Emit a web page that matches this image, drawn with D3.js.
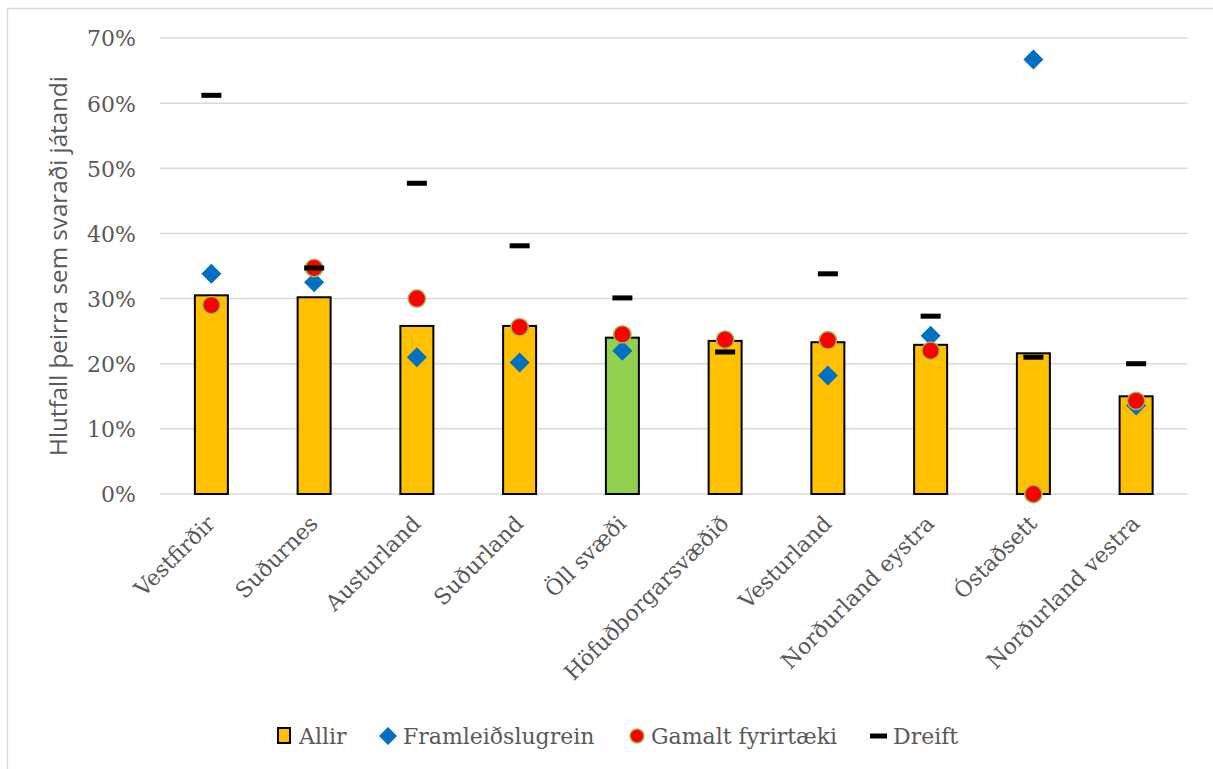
<!DOCTYPE html>
<html><head><meta charset="utf-8">
<script src="https://cdn.jsdelivr.net/npm/d3@7"></script>
<style>body{margin:0;background:#fff}svg{display:block}</style>
</head><body>
<svg id="c" width="1213" height="769"></svg>
<script>
const categories = ["Vestfirðir","Suðurnes","Austurland","Suðurland","Öll svæði","Höfuðborgarsvæðið","Vesturland","Norðurland eystra","Óstaðsett","Norðurland vestra"];
const allir = [0.305,0.302,0.258,0.258,0.240,0.235,0.233,0.229,0.216,0.150];
const framleidslugrein = [0.338,0.325,0.210,0.202,0.220,0.236,0.182,0.243,0.667,0.136];
const gamaltFyrirtaeki = [0.290,0.347,0.300,0.256,0.245,0.237,0.236,0.220,0.000,0.143];
const dreift = [0.612,0.347,0.477,0.381,0.301,0.218,0.338,0.273,0.210,0.200];
const yTicks = [0,0.1,0.2,0.3,0.4,0.5,0.6,0.7];
const highlight = "Öll svæði";
const seriesNames = ["Allir","Framleiðslugrein","Gamalt fyrirtæki","Dreift"];
const yTitle = "Hlutfall þeirra sem svaraði játandi";

const svg = d3.select("#c");
const serif = "'DejaVu Serif', serif";
const sans = "'Open Sans', sans-serif";
const txt = "#595959";

svg.append("rect").attr("x",7.5).attr("y",8.5).attr("width",1215).attr("height",770)
  .attr("fill","#fff").attr("stroke","#D9D9D9").attr("stroke-width",1.5);

const x = d3.scaleBand().domain(categories).range([160,1187.5]);
const y = d3.scaleLinear().domain([0,0.7]).range([494,38]);

// gridlines
svg.append("g").selectAll("line").data(yTicks).join("line")
  .attr("x1",160).attr("x2",1187.5).attr("y1",d=>y(d)).attr("y2",d=>y(d))
  .attr("stroke","#D9D9D9").attr("stroke-width",1.5);

// y axis labels
const yAxis = d3.axisLeft(y).tickValues(yTicks).tickFormat(d3.format(".0%")).tickSize(0).tickPadding(0);
const ya = svg.append("g").attr("transform","translate(136,0)").call(yAxis);
ya.select(".domain").remove();
ya.selectAll("text").attr("font-family",serif).attr("font-size",22).attr("fill",txt).attr("dy","0.36em");

// y title
const yt = svg.append("text").attr("transform","translate(67,266) rotate(-90)").attr("text-anchor","middle")
  .attr("font-family",sans).attr("font-size",20).attr("fill",txt).text(yTitle);
const L = yt.node().getComputedTextLength();
yt.attr("font-size", 20*380/L);

// x labels
const xAxis = d3.axisBottom(x).tickSize(0).tickPadding(0);
const xa = svg.append("g").attr("transform","translate(0,494)").call(xAxis);
xa.select(".domain").remove();
xa.selectAll("text").attr("font-family",serif).attr("font-size",22).attr("fill",txt)
  .attr("text-anchor","end").attr("dy",0).attr("y",0)
  .attr("transform","translate(5,31) rotate(-45)");

const bw = 33;
// bars
svg.append("g").selectAll("rect").data(categories).join("rect")
  .attr("x",d=>x(d)+x.bandwidth()/2-bw/2).attr("width",bw)
  .attr("y",(d,i)=>y(allir[i])).attr("height",(d,i)=>y(0)-y(allir[i]))
  .attr("fill",d=>d===highlight?"#92D050":"#FFC000").attr("stroke","#000").attr("stroke-width",2);

const cx = d=>x(d)+x.bandwidth()/2;
// diamonds
svg.append("g").selectAll("path").data(categories).join("path")
  .attr("d",(d,i)=>{const X=cx(d),Y=y(framleidslugrein[i]),r=10;return `M${X},${Y-r}L${X+r},${Y}L${X},${Y+r}L${X-r},${Y}Z`;})
  .attr("fill","#0070C0");
// circles
svg.append("g").selectAll("circle").data(categories).join("circle")
  .attr("cx",cx).attr("cy",(d,i)=>y(gamaltFyrirtaeki[i])).attr("r",8.7)
  .attr("fill","#FF0000").attr("stroke","#9BBB59").attr("stroke-width",1.5);
// dashes
svg.append("g").selectAll("rect").data(categories).join("rect")
  .attr("x",d=>cx(d)-10).attr("width",20).attr("y",(d,i)=>y(dreift[i])-2.5).attr("height",5)
  .attr("fill","#000");

// legend
const lg = svg.append("g");
const ly = 736;
const items = [
  {name:seriesNames[0], sx:277, tx:299},
  {name:seriesNames[1], sx:379, tx:403},
  {name:seriesNames[2], sx:629, tx:651},
  {name:seriesNames[3], sx:870, tx:893}
];
lg.append("rect").attr("x",items[0].sx+1).attr("y",ly-8).attr("width",12).attr("height",15)
  .attr("fill","#FFC000").attr("stroke","#000").attr("stroke-width",2);
lg.append("path").attr("d",`M${items[1].sx+9},${ly-9}L${items[1].sx+18},${ly}L${items[1].sx+9},${ly+9}L${items[1].sx},${ly}Z`).attr("fill","#0070C0");
lg.append("circle").attr("cx",items[2].sx+8).attr("cy",ly).attr("r",7).attr("fill","#FF0000").attr("stroke","#9BBB59").attr("stroke-width",1.5);
lg.append("rect").attr("x",items[3].sx).attr("y",ly-2.5).attr("width",17).attr("height",5).attr("fill","#000");
lg.selectAll("text").data(items).join("text").attr("x",d=>d.tx).attr("y",ly).attr("dy","0.36em")
  .attr("font-family",serif).attr("font-size",22).attr("fill",txt).text(d=>d.name);
</script>
</body></html>
